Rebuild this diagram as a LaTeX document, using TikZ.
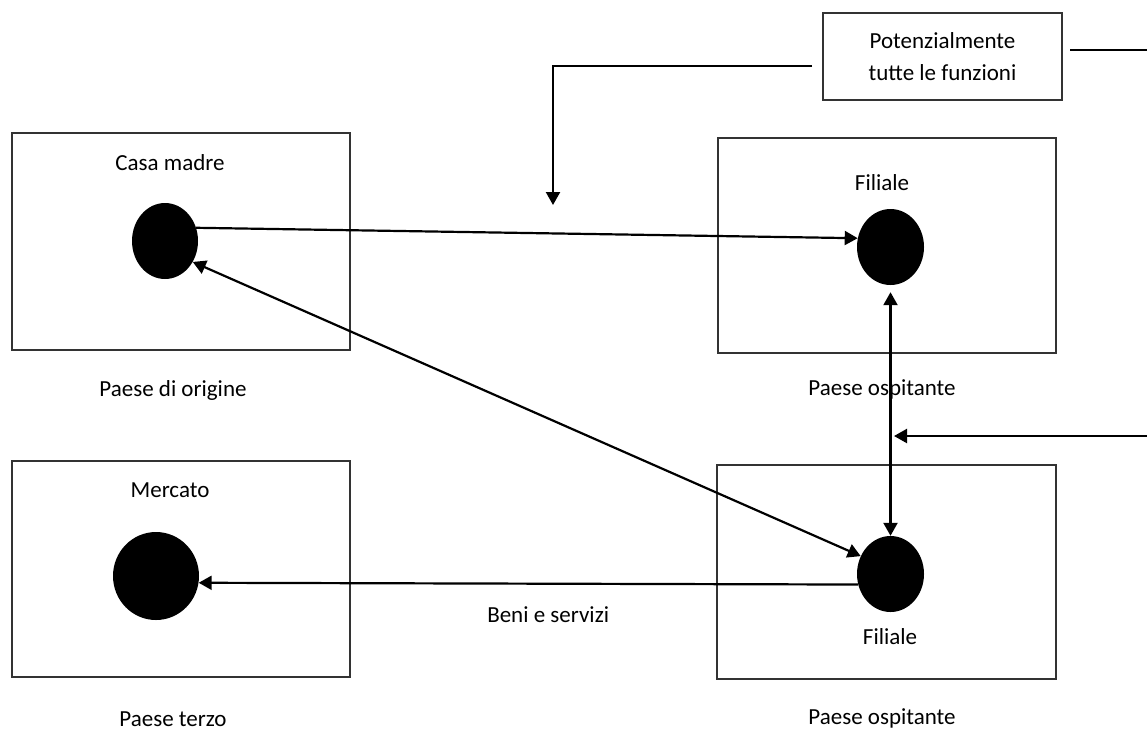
\documentclass[tikz,border=0pt]{standalone}
\usepackage{fontspec}
\setmainfont{Carlito}
\usetikzlibrary{arrows.meta,shapes.geometric}
\tikzset{
  txt/.style={font=\fontsize{23}{32}\selectfont,inner sep=0pt},
  country/.style={draw=black!80,line width=2pt,inner sep=0pt},
  firm/.style={ellipse,fill=black,inner sep=0pt},
  flow/.style={-{Triangle[length=13pt,width=14pt]},line width=2.2pt},
  twoway/.style={{Triangle[length=13pt,width=14pt]}-{Triangle[length=13pt,width=14pt]},line width=2.2pt}
}

\begin{document}
\begin{tikzpicture}[x=1pt,y=-1pt]
    \clip (0,0) rectangle (1147,737);
    % boxes
    \node[country,minimum width=338pt,minimum height=217pt] (origine) at (181,241.5) {};
    \node[country,minimum width=338pt,minimum height=215pt] (ospite) at (887,245.5) {};
    \node[country,minimum width=338pt,minimum height=216pt] (terzo) at (181,569) {};
    \node[country,minimum width=339pt,minimum height=214pt] (ospitebis) at (886.5,572) {};
    \node[country,minimum width=239pt,minimum height=87pt,txt,align=center] (funzioni) at (942.5,56.5) {Potenzialmente\\tutte le funzioni};
    % firms
    \node[firm,minimum width=66pt,minimum height=76pt] (casa) at (165,241) {};
    \node[firm,minimum width=67pt,minimum height=76pt] (filiale) at (890.5,247) {};
    \node[firm,minimum width=86pt,minimum height=88pt] (mercato) at (156,576) {};
    \node[firm,minimum width=67pt,minimum height=76pt] (filialebis) at (890.5,574) {};
    % labels
    \node[txt] (casalab) at (170,163) {Casa madre};
    \node[txt] (origlab) at (173,390) {Paese di origine};
    \node[txt] (fillab) at (882,183) {Filiale};
    \node[txt] (osplab) at (882,389) {Paese ospitante};
    \node[txt] (merclab) at (170,490) {Mercato};
    \node[txt] (terzolab) at (173,719) {Paese terzo};
    \node[txt] (filbislab) at (890,637) {Filiale};
    \node[txt] (ospbislab) at (882,718) {Paese ospitante};
    % connectors
    \coordinate (fl) at (812,66);
    \coordinate (ftip) at (553,205);
    \coordinate (fr) at (1070,50);
    \coordinate (vtip) at (894,436);
    \draw[flow] (casa.23) -- (filiale.165);
    \draw[twoway] (casa.-37) -- (filialebis.149);
    \draw[twoway,shorten <=7pt] (filiale.south) -- (filialebis.north);
    \draw[flow] (filialebis.198) -- (mercato.-9) node[txt,pos=0.47,below=22pt] {Beni e servizi};
    \draw[flow] (fl) -| (ftip);
    \draw[flow] (fr) -- (1190,50) |- (vtip);
\end{tikzpicture}
\end{document}
